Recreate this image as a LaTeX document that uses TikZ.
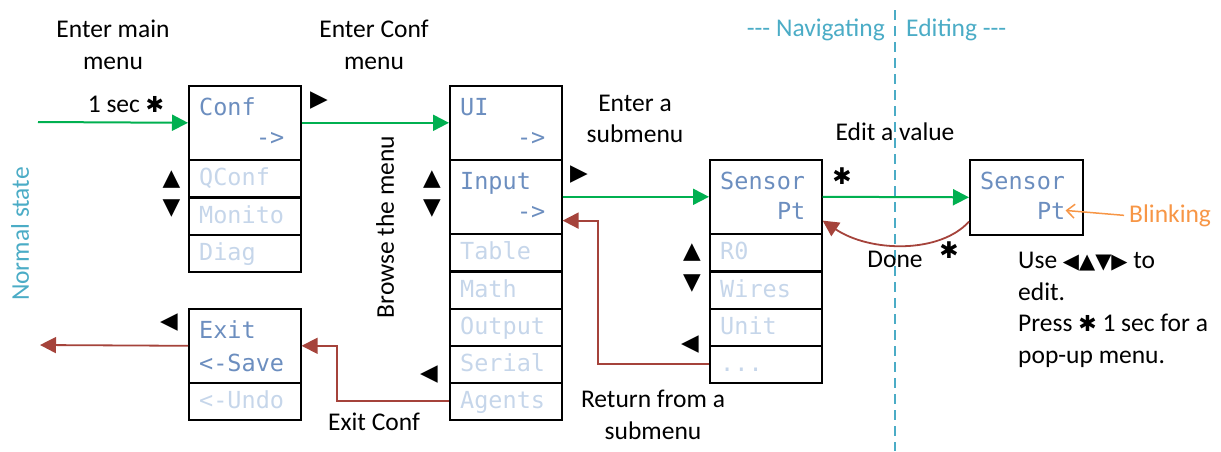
\documentclass[tikz,border=0pt]{standalone}
\usepackage{fontspec}
\setmainfont{Carlito}
\newfontfamily\monof{DejaVu Sans Mono}
\newfontfamily\symf{DejaVu Sans}
\usetikzlibrary{arrows.meta,calc}
\definecolor{actc}{HTML}{6C8EBF}
\definecolor{inac}{HTML}{C6D6EA}
\definecolor{cyanc}{HTML}{4BACC6}
\definecolor{greenc}{HTML}{00B050}
\definecolor{redc}{HTML}{A5433B}
\definecolor{orangec}{HTML}{F79646}
\begin{document}
\begin{tikzpicture}[x=1pt,y=-1pt,
 cellbox/.style={draw=black,line width=1.6pt,minimum width=112pt,inner sep=0pt,anchor=north west},
 topcell/.style={cellbox,minimum height=74pt},
 subcell/.style={cellbox,minimum height=37pt},
 act/.style={font=\monof\fontsize{23.5}{28}\selectfont,text=actc,inner sep=0pt},
 inact/.style={font=\monof\fontsize{23.5}{28}\selectfont,text=inac,inner sep=0pt},
 lbl/.style={font=\fontsize{25.5}{31.5}\selectfont,align=center,inner sep=0pt},
 symb/.style={font=\symf\fontsize{23}{26}\selectfont,inner sep=0pt},
 go/.style={draw=greenc,line width=2pt,-{Triangle[length=16pt,width=16pt]}},
 back/.style={draw=redc,line width=1.8pt,-{Triangle[length=16pt,width=16pt]}},
]
\useasboundingbox (0,0) rectangle (1221,451);

% dashed separator
\coordinate (dtop) at (895,10);
\coordinate (dbot) at (895,451);
\draw[cyanc,line width=1.8pt,dash pattern=on 10pt off 6pt] (dtop) -- (dbot);
\node[lbl,text=cyanc,anchor=base east] (nav) at (885,36) {-{}-{}- Navigating};
\node[lbl,text=cyanc,anchor=base west] (edt) at (906,36) {Editing -{}-{}-};

% Conf menu
\node[topcell] (conf) at (188,85) {};
\node[subcell] (qconf) at (188,159) {};
\node[subcell] (monito) at (188,197) {};
\node[subcell] (diag) at (188,234) {};
\node[act,anchor=base west] (conft) at (199,115) {Conf};
\node[act,anchor=base east] (confa) at (284.5,145) {->};
\node[inact,anchor=base west] (qconft) at (199,185) {QConf};
\node[inact,anchor=base west] (monitot) at (199,223) {Monito};
\node[inact,anchor=base west] (diagt) at (199,260) {Diag};

% Exit menu
\node[topcell] (exit) at (188,308) {};
\node[subcell] (undo) at (188,382) {};
\node[act,anchor=base west] (exitt) at (199,338) {Exit};
\node[act,anchor=base west] (savet) at (199,371) {<-Save};
\node[inact,anchor=base west] (undot) at (199,408) {<-Undo};

% UI menu
\node[topcell] (ui) at (449,85) {};
\node[topcell] (input) at (449,159) {};
\node[subcell] (table) at (449,233) {};
\node[subcell] (math) at (449,271) {};
\node[subcell] (output) at (449,308) {};
\node[subcell] (serial) at (449,345) {};
\node[subcell] (agents) at (449,382) {};
\node[act,anchor=base west] (uit) at (460,115) {UI};
\node[act,anchor=base east] (uia) at (545.5,145) {->};
\node[act,anchor=base west] (inputt) at (460,189) {Input};
\node[act,anchor=base east] (inputa) at (545.5,219) {->};
\node[inact,anchor=base west] (tablet) at (460,259) {Table};
\node[inact,anchor=base west] (matht) at (460,297) {Math};
\node[inact,anchor=base west] (outputt) at (460,334) {Output};
\node[inact,anchor=base west] (serialt) at (460,371) {Serial};
\node[inact,anchor=base west] (agentst) at (460,408) {Agents};

% Sensor menu
\node[topcell] (sensor) at (709,159) {};
\node[subcell] (r0) at (709,233) {};
\node[subcell] (wires) at (709,271) {};
\node[subcell] (unit) at (709,308) {};
\node[subcell] (dots) at (709,345) {};
\node[act,anchor=base west] (sensort) at (720,189) {Sensor};
\node[act,anchor=base east] (sensorp) at (805.5,219) {Pt};
\node[inact,anchor=base west] (r0t) at (720,259) {R0};
\node[inact,anchor=base west] (wirest) at (720,297) {Wires};
\node[inact,anchor=base west] (unitt) at (720,334) {Unit};
\node[inact,anchor=base west] (dotst) at (720,371) {...};

% Editing box
\node[cellbox,minimum width=113pt,minimum height=75pt] (edit) at (969,159) {};
\node[act,anchor=base west] (editt) at (980,189) {Sensor};
\node[act,anchor=base east] (ept) at (1065.5,219) {Pt};

% green transitions
\coordinate (nstate) at (38,122);
\draw[go] (nstate) -- (conf.west);
\draw[go] (conf.east) -- (ui.west);
\draw[go] (input.east) -- (sensor.west);
\draw[go] (sensor.east) -- (edit.west);

% red transitions
\coordinate (nout) at (40,345);
\draw[back] (exit.west) -- (nout);
\draw[back] (agents.west) -- ++(-112,0) |- (exit.east);
\draw[back] (dots.west) -- ++(-111,0) |- ([yshift=14pt]input.south east);
\draw[back] ([yshift=14pt]edit.south west) .. controls +(-29,32) and +(48,32) .. ([yshift=14pt]sensor.south east);

% orange
\node[lbl,text=orangec,anchor=base west] (blink) at (1129,222) {Blinking};
\draw[orangec,line width=1.5pt,-{Straight Barb[length=8pt,width=14pt]}] ([xshift=-5pt]blink.west) -- (ept.east);

% labels
\node[lbl] (l1) at (113,45) {Enter main\\menu};
\node[lbl,anchor=base] (l1s) at (126,112) {1 sec {\symf\fontsize{22}{24}\selectfont ✱}};
\node[lbl] (l2) at (374,45) {Enter Conf\\menu};
\node[lbl] (l3) at (635,119) {Enter a\\submenu};
\node[lbl,anchor=base] (l4) at (895,140) {Edit a value};
\node[lbl,anchor=base] (l5) at (895,267) {Done};
\node[lbl] (l6) at (653,415) {Return from a\\submenu};
\node[lbl,anchor=base] (l7) at (374,430) {Exit Conf};
\node[lbl,rotate=90] (l8) at (385,227) {Browse the menu};
\node[lbl,rotate=90,text=cyanc] (l9) at (20,234) {Normal state};
\node[lbl,anchor=north west,align=left] (l10) at (1018,252) {Use {\symf\fontsize{21}{24}\selectfont ◀▲▼▶} to\\edit.\\Press {\symf\fontsize{22}{24}\selectfont ✱} 1 sec for a\\pop-up menu.};

% key symbols
\node[symb] (k1) at (319,101) {▶};
\node[symb] (k2) at (171.5,180) {▲};
\node[symb] (k3) at (171.5,209) {▼};
\node[symb] (k4) at (432,180) {▲};
\node[symb] (k5) at (432,209) {▼};
\node[symb] (k6) at (169,323) {◀};
\node[symb] (k7) at (429,375) {◀};
\node[symb] (k8) at (579,175) {▶};
\node[symb] (k9) at (692,253) {▲};
\node[symb] (k10) at (692,284) {▼};
\node[symb] (k11) at (690,345) {◀};
\node[symb] (k12) at (842,176) {✱};
\node[symb] (k13) at (949,250) {✱};
\end{tikzpicture}
\end{document}
